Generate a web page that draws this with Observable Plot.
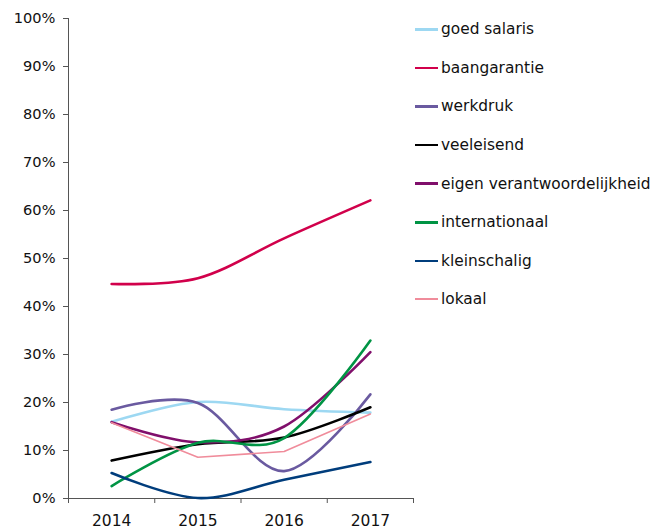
<!DOCTYPE html>
<html>
<head>
<meta charset="utf-8">
<script src="https://cdn.jsdelivr.net/npm/d3@7"></script>
<script src="https://cdn.jsdelivr.net/npm/@observablehq/plot@0.6"></script>
<style>
  html, body { margin: 0; padding: 0; background: #fff; }
  #wrap { position: relative; width: 664px; height: 529px; font-family: "DejaVu Sans", sans-serif; }
  #legend { position: absolute; left: 415px; top: 10px; }
  .row { height: 38.6px; display: flex; align-items: center; font-size: 15.4px; color: #111; }
  .sw { width: 23px; margin-right: 3px; }
</style>
</head>
<body>
<div id="wrap"><div id="chart"></div><div id="legend"></div></div>
<script>
const years = ["2014", "2015", "2016", "2017"];
const seriesNames = ["goed salaris", "baangarantie", "werkdruk", "veeleisend", "eigen verantwoordelijkheid", "internationaal", "kleinschalig", "lokaal"];
const seriesColors = ["#9dd8f2", "#d1004b", "#6a5aa0", "#000000", "#800f6b", "#009444", "#003d7c", "#f08c9b"];
const goedSalaris = [0.160, 0.201, 0.186, 0.179];
const baangarantie = [0.447, 0.459, 0.542, 0.621];
const werkdruk = [0.185, 0.199, 0.057, 0.217];
const veeleisend = [0.079, 0.113, 0.127, 0.190];
const eigenVerantwoordelijkheid = [0.159, 0.117, 0.150, 0.305];
const internationaal = [0.026, 0.116, 0.126, 0.329];
const kleinschalig = [0.053, 0.001, 0.039, 0.076];
const lokaal = [0.158, 0.086, 0.098, 0.176];
const yTicks = [0, 0.1, 0.2, 0.3, 0.4, 0.5, 0.6, 0.7, 0.8, 0.9, 1.0];

const values = [goedSalaris, baangarantie, werkdruk, veeleisend, eigenVerantwoordelijkheid, internationaal, kleinschalig, lokaal];
const data = [];
seriesNames.forEach((s, k) => values[k].forEach((v, i) => data.push({series: s, i, year: years[i], value: v})));

const axisColor = "#555";
const boundaries = d3.range(-0.5, years.length, 1);
const smooth = seriesNames.filter(s => s !== "lokaal");

const marks = [
  Plot.ruleY([0], {stroke: axisColor, strokeWidth: 1}),
  Plot.ruleX([-0.5], {stroke: axisColor, strokeWidth: 1}),
  Plot.axisY({ticks: yTicks, tickFormat: d3.format(".0%"), tickSize: 5, tickPadding: 8, fontSize: 14.6, stroke: axisColor, fill: "#111", label: null}),
  Plot.axisX({ticks: boundaries, tickSize: 5, tickFormat: () => "", stroke: axisColor, label: null}),
  Plot.axisX({ticks: d3.range(years.length), tickSize: 0, tickPadding: 16, tickFormat: i => years[i], fontSize: 15.5, fill: "#111", label: null})
];
smooth.forEach(s => {
  marks.push(Plot.line(data.filter(d => d.series === s), {x: "i", y: "value", stroke: "series", strokeWidth: 2.6, curve: "cardinal"}));
});
marks.push(Plot.line(data.filter(d => d.series === "lokaal"), {x: "i", y: "value", stroke: "series", strokeWidth: 1.6, curve: "linear"}));

const chart = Plot.plot({
  width: 664,
  height: 529,
  marginTop: 18,
  marginBottom: 31,
  marginLeft: 68,
  marginRight: 251,
  style: {fontFamily: "DejaVu Sans, sans-serif", background: "#fff"},
  x: {domain: [-0.5, years.length - 0.5], axis: null, label: null},
  y: {domain: [0, 1], axis: null, label: null},
  color: {domain: seriesNames, range: seriesColors},
  marks
});
document.getElementById("chart").appendChild(chart);

const legend = document.getElementById("legend");
seriesNames.forEach((s, k) => {
  const row = document.createElement("div");
  row.className = "row";
  const sw = document.createElement("div");
  sw.className = "sw";
  sw.style.height = (s === "lokaal" ? 2 : 2.6) + "px";
  sw.style.background = seriesColors[k];
  const t = document.createElement("span");
  t.textContent = s;
  row.appendChild(sw);
  row.appendChild(t);
  legend.appendChild(row);
});
</script>
</body>
</html>
